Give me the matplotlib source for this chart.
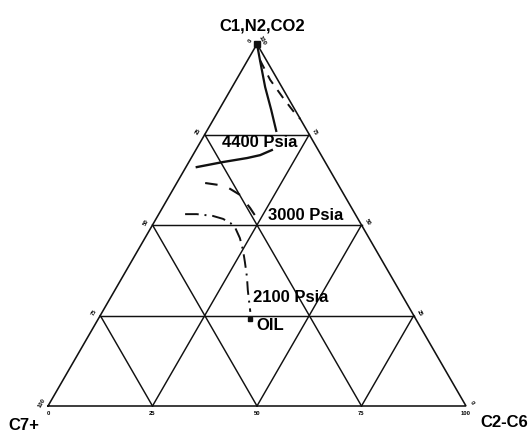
import numpy as np
import matplotlib
matplotlib.use("Agg")
import matplotlib.pyplot as plt

plt.rcParams['font.family'] = ['Liberation Sans', 'DejaVu Sans']

# Ternary compositions in percent: (C1,N2,CO2 , C2-C6); C7+ is the remainder
apex_solid_c1 = [100.0, 95.6, 88.1, 81.8, 76.0]
apex_solid_c26 = [0.0, 2.9, 7.9, 12.5, 16.6]

apex_dash_c1 = [95.6, 90.1, 85.1, 80.9, 79.3]
apex_dash_c26 = [2.9, 8.1, 13.7, 18.6, 20.7]

p4400_c1 = [66.0, 67.4, 68.5, 69.3, 70.7]
p4400_c26 = [2.6, 8.2, 13.4, 16.1, 18.2]

p3000_c1 = [61.6, 60.8, 58.3, 54.7, 51.9]
p3000_c26 = [6.8, 12.0, 16.8, 21.0, 24.0]

p2100_c1 = [53.0, 53.0, 52.5, 51.7, 50.6, 49.2, 46.4, 43.1, 39.8, 35.6, 32.0, 26.0]
p2100_c26 = [6.3, 9.1, 13.2, 16.0, 18.3, 20.2, 22.7, 25.1, 27.2, 29.8, 31.8, 35.4]

oil_c1 = 24.0
oil_c26 = 36.3

grid_levels = [25, 50, 75]
tick_values = [0, 25, 50, 75, 100]

SQ3 = np.sqrt(3.0)


def tern(c1, c26):
    """Map (top %, right %) to cartesian coordinates of a unit triangle."""
    t = np.asarray(c1, dtype=float) / 100.0
    r = np.asarray(c26, dtype=float) / 100.0
    return r + t / 2.0, t * SQ3 / 2.0


fig = plt.figure(figsize=(5.31, 4.32), dpi=100)
ax = fig.add_axes([0, 0, 1, 1])
ax.set_xlim(-48 / 418, 483 / 418)
ax.set_ylim(-26 / 418, 406 / 418)
ax.axis('off')

lc = '#111111'
# outer triangle
tx, ty = tern([0, 0, 100, 0], [0, 100, 0, 0])
ax.plot(tx, ty, color=lc, lw=1.15, solid_joinstyle='miter')

# interior grid lines parallel to each side
for g in grid_levels:
    # constant C1
    x, y = tern([g, g], [0, 100 - g])
    ax.plot(x, y, color=lc, lw=1.05)
    # constant C2-C6
    x, y = tern([0, 100 - g], [g, g])
    ax.plot(x, y, color=lc, lw=1.05)
    # constant C7+
    x, y = tern([0, 100 - g], [100 - g, 0])
    ax.plot(x, y, color=lc, lw=1.05)

# tiny scale labels along the three sides
tk = dict(fontsize=4.2, fontweight='bold', color='black', ha='center', va='center')
for v in tick_values:
    x, y = tern(0, v)
    ax.text(x, y - 0.018, str(v), **tk)
    x, y = tern(v, 100 - v)
    ax.text(x + 0.014, y + 0.007, str(v), rotation=-60, **tk)
    x, y = tern(100 - v, 0)
    ax.text(x - 0.015, y + 0.007, str(v), rotation=60, **tk)

# phase curves
ax.plot(*tern(apex_solid_c1, apex_solid_c26), color=lc, lw=1.6)
ax.plot(*tern(apex_dash_c1, apex_dash_c26), color=lc, lw=1.4, ls=(0, (5, 4)))
ax.plot(*tern(p4400_c1, p4400_c26), color=lc, lw=1.7)
ax.plot(*tern(p3000_c1, p3000_c26), color=lc, lw=1.5, ls=(0, (6, 6)))
ax.plot(*tern(p2100_c1, p2100_c26), color=lc, lw=1.4, ls=(0, (7, 3, 1, 3)))

# apex and oil markers
ax.plot(*tern(100, 0), marker='s', ms=4, color=lc)
ax.plot(*tern(oil_c1, oil_c26), marker='s', ms=3.5, color=lc)

txt = dict(fontsize=12, fontweight='bold', color='black', va='baseline')
ax.text(0.512, 0.8995, 'C1,N2,CO2', ha='center', **txt)
ax.text(0.4163, 0.6196, '4400 Psia', ha='left', **txt)
ax.text(0.5263, 0.4450, '3000 Psia', ha='left', **txt)
ax.text(0.4904, 0.2488, '2100 Psia', ha='left', **txt)
ax.text(0.4976, 0.1818, 'OIL', ha='left', **txt)
ax.text(-0.0957, -0.0574, 'C7+', ha='left', **txt)
ax.text(1.0335, -0.0502, 'C2-C6', ha='left', **txt)

fig.savefig('out.png', dpi=100, facecolor='white')
